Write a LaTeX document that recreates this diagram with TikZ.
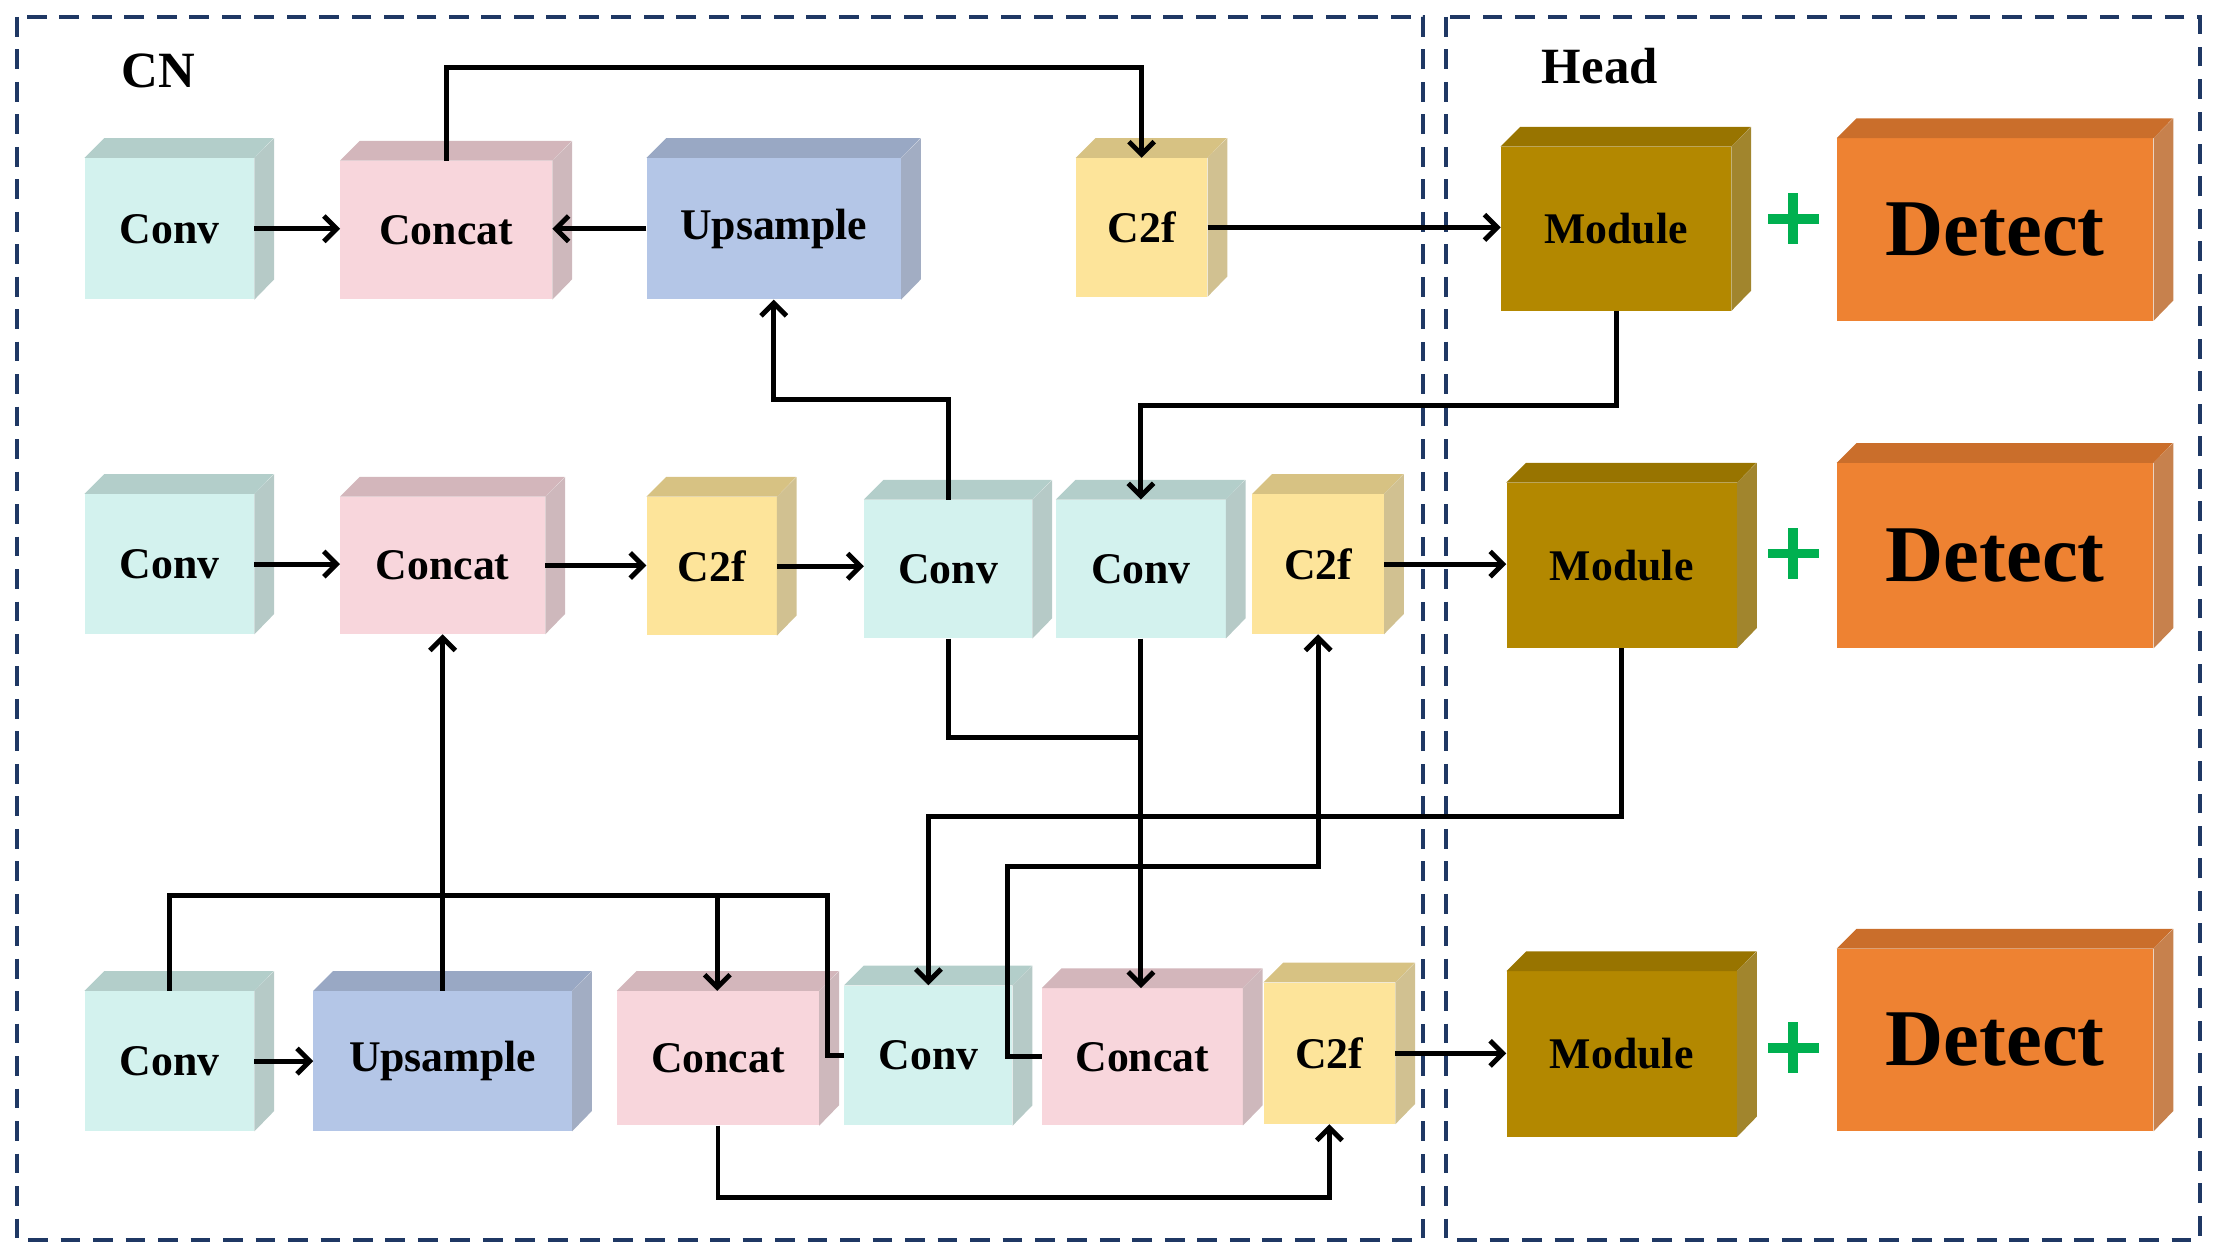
\documentclass[tikz,border=0pt]{standalone}
\usepackage{fontspec}
\setmainfont{Liberation Serif}
\usetikzlibrary{arrows.meta}
\definecolor{cconv}{HTML}{D3F2EE}
\definecolor{ccat}{HTML}{F8D6DC}
\definecolor{cup}{HTML}{B4C6E7}
\definecolor{cc2f}{HTML}{FDE49A}
\definecolor{cmod}{HTML}{B38800}
\definecolor{cdet}{HTML}{EE8232}
\definecolor{cframe}{HTML}{1F3864}
\definecolor{cgreen}{HTML}{00B050}
\newcommand\cube[8]{%
\node[inner sep=0, fill=#6, minimum width={(#4-#2)*1pt}, minimum height={(#5-#3)*1pt}, font=#7] (#1) at ({(#2+#4)/2},{(#3+#5)/2}) {#8};
\fill[#6!85!black] (#1.north west) -- ++(14,-14) -- ++({#4-#2},0) -- (#1.north east) -- cycle;
\fill[#6!65!gray] (#1.north east) -- ++(14,-14) -- ++(0,{#5-#3}) -- (#1.south east) -- cycle;}
\newcommand\fs{\fontsize{31}{36}\selectfont\bfseries}
\newcommand\fd{\fontsize{57}{64}\selectfont\bfseries}
\begin{document}
\begin{tikzpicture}[x=1pt,y=-1pt,
 arr/.style={line width=3.5pt,-{Straight Barb[length=9pt,width=18pt,line width=3.5pt]}},
 ln/.style={line width=3.5pt},
 frame/.style={cframe,line width=3pt,dash pattern=on 14pt off 9pt},
 plus/.style={cgreen,line width=7pt}]
\useasboundingbox (0,0) rectangle (1568,890);
\draw[frame] (12,12) rectangle (1008,878);
\draw[frame] (1024,12) rectangle (1558,878);
\node[font=\fontsize{36}{40}\selectfont\bfseries] (cn) at (112,50) {CN};
\node[font=\fontsize{36}{40}\selectfont\bfseries] (head) at (1133,47) {Head};
% row 1
\cube{conv1}{60}{112}{180}{212}{cconv}{\fs}{Conv}
\cube{cat1}{241}{114}{391}{212}{ccat}{\fs}{Concat}
\cube{up1}{458}{112}{638}{212}{cup}{\fs}{Upsample}
\cube{c2f1}{762}{112}{855}{210}{cc2f}{\fs}{C2f}
\cube{mod1}{1063}{104}{1226}{220}{cmod}{\fs}{Module}
\cube{det1}{1301}{98}{1525}{227}{cdet}{\fd}{Detect}
% row 2
\cube{conv2}{60}{350}{180}{449}{cconv}{\fs}{Conv}
\cube{cat2}{241}{352}{386}{449}{ccat}{\fs}{Concat}
\cube{c2f2}{458}{352}{550}{450}{cc2f}{\fs}{C2f}
\cube{conva}{612}{354}{731}{452}{cconv}{\fs}{Conv}
\cube{convb}{748}{354}{868}{452}{cconv}{\fs}{Conv}
\cube{c2f2b}{887}{350}{980}{449}{cc2f}{\fs}{C2f}
\cube{mod2}{1067}{342}{1230}{459}{cmod}{\fs}{Module}
\cube{det2}{1301}{328}{1525}{459}{cdet}{\fd}{Detect}
% row 3
\cube{conv3}{60}{702}{180}{801}{cconv}{\fs}{Conv}
\cube{up3}{222}{702}{405}{801}{cup}{\fs}{Upsample}
\cube{cat3a}{437}{702}{580}{797}{ccat}{\fs}{Concat}
\cube{conv3b}{598}{698}{717}{797}{cconv}{\fs}{Conv}
\cube{cat3b}{738}{700}{880}{797}{ccat}{\fs}{Concat}
\cube{c2f3}{895}{696}{988}{796}{cc2f}{\fs}{C2f}
\cube{mod3}{1067}{688}{1230}{805}{cmod}{\fs}{Module}
\cube{det3}{1301}{672}{1525}{801}{cdet}{\fd}{Detect}
% plus signs
\foreach \y in {155,392,742}{\draw[plus] (1252,\y) -- (1288,\y); \draw[plus] (1270,\y-18) -- (1270,\y+18);}
% connectors
\draw[arr] (conv1.east) -- (conv1.east -| cat1.west);
\draw[arr] (up1.west) -- (up1.west -| cat1.east);
\draw[arr] (cat1.north) -- ++(0,-66) -| (c2f1.north);
\draw[arr] (c2f1.east) -- (c2f1.east -| mod1.west);
\draw[arr] (mod1.south) -- ++(0,67) -| (convb.north);
\draw[arr] (conva.north) -- ++(0,-71) -| (up1.south);
\draw[arr] (conv2.east) -- (conv2.east -| cat2.west);
\draw[arr] (cat2.east) -- (cat2.east -| c2f2.west);
\draw[arr] (c2f2.east) -- (c2f2.east -| conva.west);
\draw[arr] (c2f2b.east) -- (c2f2b.east -| mod2.west);
\draw[ln] (conva.south) -- ++(0,70) -| (convb.south);
\draw[arr] (convb.south) -- (convb.south |- cat3b.north);
\draw[arr] (mod2.south) -- ++(0,119) -| (conv3b.north);
\draw[arr] (cat3b.west) -- ++(-24,0) coordinate (k) -- (k |- 0,614) -| (c2f2b.south);
\coordinate (j1) at (586,634);
\coordinate (j2) at (508,634);
\draw[ln] (conv3.north) |- (j1) |- (conv3b.west);
\draw[arr] (j2) -- (j2 |- cat3a.north);
\draw[arr] (up3.north) -- (up3.north |- cat2.south);
\draw[arr] (conv3.east) -- (conv3.east -| up3.west);
\draw[arr] (cat3a.south) -- ++(0,51) -| (c2f3.south);
\draw[arr] (c2f3.east) -- (c2f3.east -| mod3.west);
\end{tikzpicture}
\end{document}
